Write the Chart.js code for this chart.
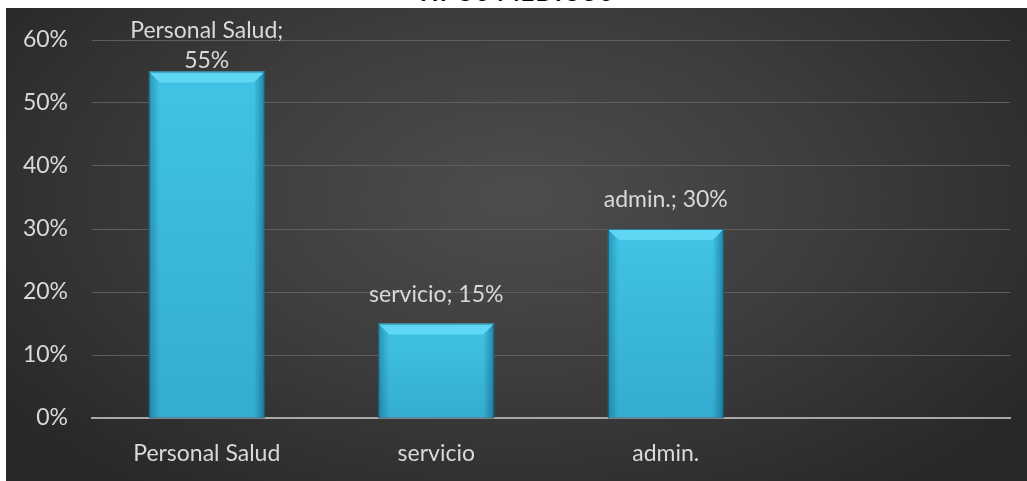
<!DOCTYPE html>
<html lang="es">
<head>
    <meta charset="UTF-8">
    <title>Personal</title>
    <script src="https://cdn.jsdelivr.net/npm/chart.js"></script>
    <style>
        html, body {
            margin: 0;
            padding: 0;
            background: #ffffff;
            width: 1027px;
            height: 481px;
            overflow: hidden;
        }
        .title {
            position: absolute;
            left: 0;
            top: 0;
            width: 1030px;
            height: 8px;
            overflow: hidden;
        }
        .title span {
            position: absolute;
            left: 0;
            width: 100%;
            top: -23px;
            text-align: center;
            font-family: Lato, "Open Sans", sans-serif;
            font-weight: bold;
            font-size: 24px;
            letter-spacing: 1px;
            color: #000;
        }
        .chart-box {
            position: absolute;
            left: 6px;
            top: 8px;
            width: 1021px;
            height: 473px;
            background: radial-gradient(ellipse 60% 75% at 50% 40%, #4d4d4d 0%, #3d3d3d 50%, #292929 100%);
        }
    </style>
</head>
<body>
    <div class="title"><span>TIPOS MEDICOS</span></div>
    <div class="chart-box">
        <canvas id="chart" width="1021" height="473"></canvas>
    </div>

    <script>
        const categories = ['Personal Salud', 'servicio', 'admin.', ''];
        const values = [0.55, 0.15, 0.30, null];
        const pointLabels = [['Personal Salud;', '55%'], ['servicio; 15%'], ['admin.; 30%'], null];
        const yTicks = [0, 0.1, 0.2, 0.3, 0.4, 0.5, 0.6];

        const textColor = '#d9d9d9';
        const font = 'Lato, "Open Sans", sans-serif';

        // bevel look of the bars
        const bevelPlugin = {
            id: 'bevel',
            afterDatasetsDraw(chart) {
                const ctx = chart.ctx;
                const meta = chart.getDatasetMeta(0);
                meta.data.forEach((bar, i) => {
                    if (values[i] == null) return;
                    const l = bar.x - bar.width / 2, r = bar.x + bar.width / 2;
                    const t = bar.y, b = bar.base;
                    const d = 11;
                    ctx.save();
                    // face
                    const g = ctx.createLinearGradient(0, t, 0, b);
                    g.addColorStop(0, '#40c4e6');
                    g.addColorStop(1, '#35acd2');
                    ctx.fillStyle = g;
                    ctx.fillRect(l, t, bar.width, b - t);
                    // left / right bevel
                    const gl = ctx.createLinearGradient(l, 0, l + d, 0);
                    gl.addColorStop(0, 'rgba(0, 60, 90, 0.35)');
                    gl.addColorStop(1, 'rgba(0, 60, 90, 0)');
                    ctx.fillStyle = gl;
                    ctx.beginPath();
                    ctx.moveTo(l, t); ctx.lineTo(l + d, t + d); ctx.lineTo(l + d, b); ctx.lineTo(l, b);
                    ctx.closePath(); ctx.fill();
                    const gr = ctx.createLinearGradient(r, 0, r - d, 0);
                    gr.addColorStop(0, 'rgba(0, 60, 90, 0.45)');
                    gr.addColorStop(1, 'rgba(0, 60, 90, 0)');
                    ctx.fillStyle = gr;
                    ctx.beginPath();
                    ctx.moveTo(r, t); ctx.lineTo(r - d, t + d); ctx.lineTo(r - d, b); ctx.lineTo(r, b);
                    ctx.closePath(); ctx.fill();
                    // top bevel
                    ctx.fillStyle = '#5fd6f4';
                    ctx.beginPath();
                    ctx.moveTo(l, t); ctx.lineTo(r, t); ctx.lineTo(r - d, t + d); ctx.lineTo(l + d, t + d);
                    ctx.closePath(); ctx.fill();
                    // thin dark edge
                    ctx.strokeStyle = 'rgba(10, 60, 85, 0.6)';
                    ctx.lineWidth = 1;
                    ctx.strokeRect(l + 0.5, t + 0.5, bar.width - 1, b - t);
                    ctx.restore();
                });
            }
        };

        const labelPlugin = {
            id: 'barLabels',
            afterDatasetsDraw(chart) {
                const ctx = chart.ctx;
                const meta = chart.getDatasetMeta(0);
                ctx.save();
                ctx.fillStyle = textColor;
                ctx.font = '23px ' + font;
                ctx.textAlign = 'center';
                ctx.textBaseline = 'middle';
                meta.data.forEach((bar, i) => {
                    const lines = pointLabels[i];
                    if (!lines) return;
                    if (lines.length > 1) {
                        ctx.fillText(lines[0], bar.x, bar.y - 41);
                        ctx.fillText(lines[1], bar.x, bar.y - 11);
                    } else {
                        ctx.fillText(lines[0], bar.x, bar.y - 29);
                    }
                });
                ctx.restore();
            }
        };

        new Chart(document.getElementById('chart'), {
            type: 'bar',
            data: {
                labels: categories,
                datasets: [{
                    data: values,
                    backgroundColor: 'rgba(0,0,0,0)',
                    borderWidth: 0,
                    barPercentage: 1,
                    categoryPercentage: 0.505
                }]
            },
            options: {
                responsive: false,
                animation: false,
                events: [],
                layout: { padding: { top: 32, right: 17, left: 0, bottom: 0 } },
                plugins: {
                    legend: { display: false },
                    tooltip: { enabled: false }
                },
                scales: {
                    x: {
                        grid: { display: false },
                        border: { color: '#a8a8a8', width: 2 },
                        ticks: {
                            color: textColor,
                            font: { family: font, size: 23 },
                            padding: 14
                        },
                        afterFit(scale) {
                            scale.height = 63;
                            scale.paddingLeft = 0;
                            scale.paddingRight = 0;
                        }
                    },
                    y: {
                        min: 0,
                        max: 0.6,
                        afterBuildTicks(scale) {
                            scale.ticks = yTicks.map(v => ({ value: v }));
                        },
                        grid: { color: '#5e5e5e', lineWidth: 1, drawTicks: false },
                        border: { display: false },
                        ticks: {
                            color: textColor,
                            font: { family: font, size: 23 },
                            padding: 24,
                            callback: v => Math.round(v * 100) + '%'
                        },
                        afterFit(scale) {
                            scale.width = 86;
                            scale.paddingTop = 0;
                            scale.paddingBottom = 0;
                        }
                    }
                }
            },
            plugins: [bevelPlugin, labelPlugin]
        });
    </script>
</body>
</html>
